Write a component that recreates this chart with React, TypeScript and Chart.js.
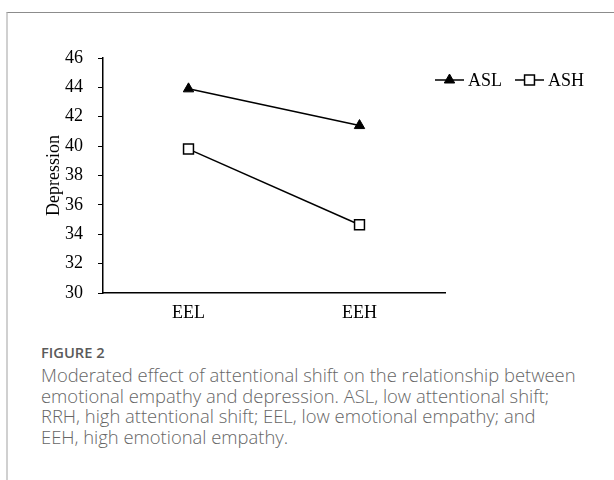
import React, { useEffect, useRef } from "react";
import { Chart, registerables } from "chart.js";

Chart.register(...registerables);

const categories = ["EEL", "EEH"];
const seriesNames = ["ASL", "ASH"];
const aslValues = [43.9, 41.4];
const ashValues = [39.8, 34.65];
const yMin = 30;
const yMax = 46;
const yStep = 2;
const yTitle = "Depression";
const figureLabel = "FIGURE 2";
const captionLines = [
  "Moderated effect of attentional shift on the relationship between",
  "emotional empathy and depression. ASL, low attentional shift;",
  "RRH, high attentional shift; EEL, low emotional empathy; and",
  "EEH, high emotional empathy.",
];

const SERIF = "'Liberation Serif', 'Times New Roman', serif";

function drawMarker(ctx: CanvasRenderingContext2D, style: string, x: number, y: number, r: number) {
  ctx.beginPath();
  if (style === "triangle") {
    let rad = 0;
    ctx.moveTo(x + Math.sin(rad) * r, y - Math.cos(rad) * r);
    rad += (2 * Math.PI) / 3;
    ctx.lineTo(x + Math.sin(rad) * r, y - Math.cos(rad) * r);
    rad += (2 * Math.PI) / 3;
    ctx.lineTo(x + Math.sin(rad) * r, y - Math.cos(rad) * r);
    ctx.closePath();
  } else {
    const s = Math.SQRT1_2 * r;
    ctx.rect(x - s, y - s, 2 * s, 2 * s);
  }
  ctx.fill();
  ctx.stroke();
}

const lineLegend = {
  id: "lineLegend",
  afterDraw(chart: any) {
    const ctx: CanvasRenderingContext2D = chart.ctx;
    const area = chart.chartArea;
    let x = area.right - 10;
    const y = area.top + 22;
    ctx.save();
    ctx.font = `18px ${SERIF}`;
    ctx.textBaseline = "middle";
    ctx.textAlign = "left";
    chart.data.datasets.forEach((ds: any) => {
      const lineLen = 29;
      ctx.strokeStyle = "#000";
      ctx.lineWidth = 1.5;
      ctx.beginPath();
      ctx.moveTo(x, y);
      ctx.lineTo(x + lineLen, y);
      ctx.stroke();
      ctx.fillStyle = ds.pointBackgroundColor;
      ctx.strokeStyle = ds.pointBorderColor;
      ctx.lineWidth = ds.pointBorderWidth;
      drawMarker(ctx, ds.pointStyle, x + lineLen / 2, y, ds.pointRadius);
      ctx.fillStyle = "#000";
      ctx.fillText(ds.label, x + lineLen + 4, y + 1);
      const w = ctx.measureText(ds.label).width;
      x += lineLen + 4 + w + 13;
    });
    ctx.restore();
  },
};

export default function App() {
  const canvasRef = useRef<HTMLCanvasElement>(null);

  useEffect(() => {
    if (!canvasRef.current) return;
    const chart = new Chart(canvasRef.current, {
      type: "line",
      data: {
        labels: categories,
        datasets: [
          {
            label: seriesNames[0],
            data: aslValues,
            borderColor: "#000",
            borderWidth: 1.5,
            pointStyle: "triangle",
            pointRadius: 6,
            pointBackgroundColor: "#000",
            pointBorderColor: "#000",
            pointBorderWidth: 1,
          } as any,
          {
            label: seriesNames[1],
            data: ashValues,
            borderColor: "#000",
            borderWidth: 1.5,
            pointStyle: "rect",
            pointRadius: 7,
            pointBackgroundColor: "#fff",
            pointBorderColor: "#000",
            pointBorderWidth: 1.5,
          } as any,
        ],
      },
      options: {
        animation: false,
        responsive: false,
        layout: { padding: { left: 0, right: 169, top: 58, bottom: 0 } },
        plugins: {
          legend: { display: false },
          tooltip: { enabled: false },
        },
        scales: {
          x: {
            offset: true,
            grid: { display: true, drawOnChartArea: false, drawTicks: false },
            border: { display: true, color: "#000", width: 1.5 },
            ticks: { color: "#000", font: { family: SERIF, size: 18 }, padding: 9 },
            afterFit: (s: any) => {
              s.height = 37;
            },
          },
          y: {
            min: yMin,
            max: yMax,
            grid: { display: true, drawOnChartArea: false, drawTicks: true, tickLength: 5, color: "#000" },
            border: { display: true, color: "#000", width: 1.5 },
            ticks: { stepSize: yStep, color: "#000", font: { family: SERIF, size: 18 }, padding: 15 },
            title: {
              display: true,
              text: yTitle,
              color: "#000",
              font: { family: SERIF, size: 18 },
              padding: { top: 43, bottom: 0 },
            },
            afterFit: (s: any) => {
              s.width = 103;
            },
          },
        },
      },
      plugins: [lineLegend],
    });
    return () => chart.destroy();
  }, []);

  return (
    <div style={{ position: "absolute", left: 0, top: 0, width: 614, height: 480, overflow: "hidden", background: "#fff" }}>
      <div
        style={{
          position: "absolute",
          left: 6,
          top: 12,
          width: 608,
          height: 468,
          boxSizing: "border-box",
          borderTop: "1px solid #8c8c8c",
          borderLeft: "2px solid #d0d0d0",
        }}
      />
      <canvas ref={canvasRef} width={614} height={330} style={{ position: "absolute", left: 0, top: 0 }} />
      <div
        style={{
          position: "absolute",
          left: 41,
          top: 342,
          fontFamily: "'Open Sans', 'Noto Sans', sans-serif",
          fontSize: 14.7,
          fontWeight: 600,
          lineHeight: "20px",
          color: "#5a5a5a",
          whiteSpace: "nowrap",
        }}
      >
        {figureLabel}
      </div>
      <div
        style={{
          position: "absolute",
          left: 41,
          top: 365,
          fontFamily: "'Open Sans', 'Noto Sans', sans-serif",
          fontSize: 18.4,
          fontWeight: 300,
          lineHeight: "20.7px",
          color: "#666",
          whiteSpace: "nowrap",
        }}
      >
        {captionLines.map((l, i) => (
          <div key={i}>{l}</div>
        ))}
      </div>
    </div>
  );
}
